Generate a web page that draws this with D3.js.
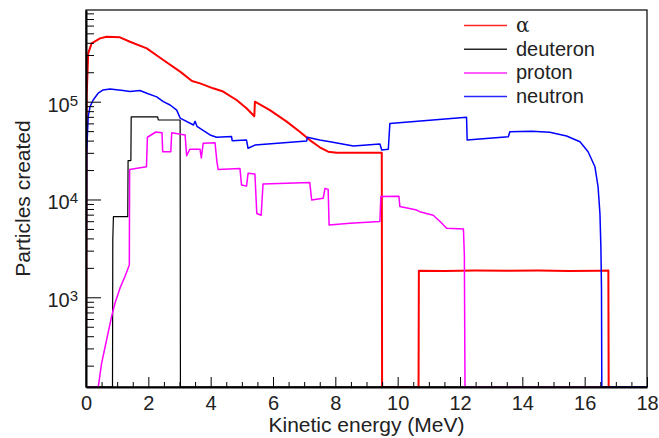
<!DOCTYPE html>
<html>
<head>
<meta charset="utf-8">
<script src="https://cdn.jsdelivr.net/npm/d3@7"></script>
<style>
  body { margin: 0; background: #fff; }
  svg { font-family: "Liberation Sans", Arial, Helvetica, sans-serif; }
</style>
</head>
<body>
<div id="chart"></div>
<script>
// spectra: [kinetic energy (MeV), particles created]
var alphaData = [
    [0, 0], [0.02, 1.12e5], [0.07, 3.12e5], [0.18, 3.95e5], [0.45, 4.44e5], [0.66, 4.62e5],
    [1.09, 4.55e5], [1.41, 4.10e5], [1.95, 3.51e5], [2.48, 2.67e5], [3.02, 2.03e5],
    [3.40, 1.63e5], [3.66, 1.54e5], [4.08, 1.37e5], [4.40, 1.27e5], [4.83, 1.04e5],
    [5.15, 8.57e4], [5.40, 7.1e4], [5.42, 1.0e5], [5.90, 8.2e4], [6.44, 6.25e4],
    [6.86, 4.93e4], [7.18, 4.05e4], [7.50, 3.42e4], [7.77, 3.08e4], [8.04, 3.0e4],
    [9.49, 3.0e4], [9.50, 0], [10.67, 0], [10.68, 1.87e3], [11.5, 1.86e3], [12.5, 1.88e3],
    [13.5, 1.87e3], [14.5, 1.88e3], [15.5, 1.86e3], [16.5, 1.87e3], [16.76, 1.88e3],
    [16.77, 0], [18, 0]
];
var deuteronData = [
    [0, 0], [0.85, 0], [0.86, 3.94e3], [0.88, 6.67e3], [1.34, 6.67e3], [1.35, 2.5e4],
    [1.44, 2.5e4], [1.45, 7.0e4], [2.30, 7.0e4], [2.32, 6.5e4], [3.02, 6.5e4], [3.03, 0], [18, 0]
];
var protonData = [
    [0, 0], [0.38, 0], [0.40, 125], [0.50, 211], [0.66, 366], [0.82, 634], [0.93, 869],
    [1.09, 1240], [1.25, 1630], [1.39, 2140], [1.40, 2.03e4], [1.94, 2.16e4], [1.97, 4.33e4],
    [2.24, 4.9e4], [2.44, 4.8e4], [2.46, 3.08e4], [2.72, 3.08e4], [2.75, 4.8e4], [3.18, 4.57e4],
    [3.23, 2.8e4], [3.33, 3.26e4], [3.66, 3.26e4], [3.70, 2.66e4], [3.76, 3.75e4], [4.14, 3.8e4],
    [4.20, 2.44e4], [4.24, 2.03e4], [4.94, 2.08e4], [4.99, 1.41e4], [5.15, 1.37e4], [5.20, 1.85e4],
    [5.42, 1.82e4], [5.48, 7.2e3], [5.62, 6.9e3], [5.68, 1.44e4], [7.18, 1.49e4], [7.24, 9.9e3],
    [7.61, 1.03e4], [7.67, 1.30e4], [7.77, 1.27e4], [7.80, 5.5e3], [8.47, 5.7e3], [9.43, 5.96e3],
    [9.46, 1.07e4], [10.04, 1.08e4], [10.07, 8.5e3], [10.61, 7.8e3], [10.71, 7.5e3], [11.14, 6.9e3],
    [11.36, 5.96e3], [11.57, 5.08e3], [12.11, 5.0e3], [12.14, 2.7e3], [12.16, 0], [18, 0]
];
var neutronData = [
    [0, 0], [0.02, 2.97e4], [0.07, 7.03e4], [0.13, 8.89e4], [0.23, 1.04e5], [0.39, 1.22e5],
    [0.55, 1.32e5], [0.77, 1.35e5], [1.19, 1.30e5], [1.41, 1.27e5], [1.73, 1.30e5], [1.95, 1.22e5],
    [2.27, 1.12e5], [2.48, 1.0e5], [2.70, 9.25e4], [2.91, 8.2e4], [3.02, 6.8e4], [3.45, 5.78e4],
    [3.50, 6.3e4], [3.56, 5.6e4], [3.98, 4.57e4], [4.19, 4.33e4], [4.67, 4.4e4], [4.69, 3.99e4],
    [5.15, 4.05e4], [5.20, 3.34e4], [5.42, 3.6e4], [7.08, 3.96e4], [7.10, 4.33e4], [7.50, 4.05e4],
    [7.83, 3.9e4], [8.58, 3.52e4], [9.43, 3.7e4], [9.49, 3.2e4], [9.70, 3.26e4], [9.75, 6.0e4],
    [12.21, 6.92e4], [12.23, 4.05e4], [13.55, 4.38e4], [13.60, 4.93e4], [14.30, 5.0e4],
    [14.88, 4.86e4], [15.42, 4.46e4], [15.85, 3.9e4], [16.11, 3.08e4], [16.33, 2.16e4],
    [16.43, 1.35e4], [16.49, 7.2e3], [16.52, 3.3e3], [16.54, 1.2e3], [16.55, 0], [18, 0]
];

var legendLabels = ["\u03b1", "deuteron", "proton", "neutron"];
var seriesColors = ["#ff0000", "#000000", "#ff00ff", "#0000ff"];
var xTicks = [0, 2, 4, 6, 8, 10, 12, 14, 16, 18];
var yDecades = [3, 4, 5];

var width = 659,
    height = 438,
    plotLeft = 86, plotRight = 647, plotTop = 10, plotBottom = 387,
    yMin = 121, yMax = 8.66e5;

var svg = d3.select("#chart").append("svg")
    .attr("width", width)
    .attr("height", height);

var x = d3.scaleLinear().domain([0, 18]).range([plotLeft, plotRight]);
var y = d3.scaleLog().domain([yMin, yMax]).range([plotBottom, plotTop]);

svg.append("clipPath").attr("id", "clip")
    .append("rect")
    .attr("x", plotLeft).attr("y", plotTop - 1)
    .attr("width", plotRight - plotLeft).attr("height", plotBottom - plotTop + 1);

var line = d3.line()
    .x(function (d) { return x(d[0]); })
    .y(function (d) { return y(Math.max(d[1], yMin)); });

var series = [alphaData, deuteronData, protonData, neutronData];
var widths = [2, 1.2, 1.5, 1.5];

var plot = svg.append("g").attr("clip-path", "url(#clip)");
series.forEach(function (s, i) {
    plot.append("path")
        .datum(s)
        .attr("fill", "none")
        .attr("stroke", seriesColors[i])
        .attr("stroke-width", widths[i])
        .attr("stroke-linejoin", "round")
        .attr("d", line);
});

// frame
svg.append("rect")
    .attr("x", plotLeft).attr("y", plotTop)
    .attr("width", plotRight - plotLeft).attr("height", plotBottom - plotTop)
    .attr("fill", "none")
    .attr("stroke", "#000")
    .attr("stroke-width", 1.2);

// x axis: major and minor ticks, drawn inward
var xMinor = d3.range(0, 18.01, 0.5).filter(function (v) { return v % 2 !== 0; });
svg.append("g")
    .attr("transform", "translate(0," + plotBottom + ")")
    .call(d3.axisBottom(x).tickValues(xMinor).tickSize(-5).tickFormat(""))
    .call(function (g) { g.select(".domain").remove(); });

var xAxis = svg.append("g")
    .attr("transform", "translate(0," + plotBottom + ")")
    .call(d3.axisBottom(x).tickValues(xTicks).tickSize(-10).tickSizeOuter(0).tickPadding(9).tickFormat(d3.format("d")));
xAxis.select(".domain").attr("stroke-width", 2);
xAxis.selectAll("text").attr("font-size", 20).attr("fill", "#222")
    .attr("font-family", "Liberation Sans, Arial, sans-serif");

// y axis: log ticks
var yMinor = [];
[2, 3, 4, 5].forEach(function (e) {
    for (var m = 2; m <= 9; m++) {
        var v = m * Math.pow(10, e);
        if (v >= yMin && v <= yMax) yMinor.push(v);
    }
});
svg.append("g")
    .attr("transform", "translate(" + plotLeft + ",0)")
    .call(d3.axisLeft(y).tickValues(yMinor).tickSize(-8).tickFormat(""))
    .call(function (g) { g.select(".domain").remove(); });

var yAxis = svg.append("g")
    .attr("transform", "translate(" + plotLeft + ",0)")
    .call(d3.axisLeft(y).tickValues(yDecades.map(function (e) { return Math.pow(10, e); }))
        .tickSize(-15).tickSizeOuter(0).tickFormat(""));
yAxis.select(".domain").attr("stroke-width", 2);

var yLab = svg.append("g").selectAll("text")
    .data(yDecades)
    .enter().append("text")
    .attr("x", 78)
    .attr("y", function (d) { return y(Math.pow(10, d)) + 10; })
    .attr("text-anchor", "end")
    .attr("fill", "#222")
    .attr("font-size", 20);
yLab.append("tspan").text("10");
yLab.append("tspan").attr("dy", -6).attr("font-size", 15).text(function (d) { return d; });

// axis titles
svg.append("text")
    .attr("x", (plotLeft + plotRight) / 2)
    .attr("y", 432)
    .attr("text-anchor", "middle")
    .attr("font-size", 21)
    .attr("fill", "#222")
    .text("Kinetic energy (MeV)");

svg.append("text")
    .attr("transform", "translate(30," + (plotTop + plotBottom) / 2 + ") rotate(-90)")
    .attr("text-anchor", "middle")
    .attr("font-size", 21)
    .attr("fill", "#222")
    .text("Particles created");

// legend
var legend = svg.append("g").selectAll("g")
    .data(legendLabels)
    .enter().append("g")
    .attr("transform", function (d, i) { return "translate(0," + (25.5 + i * 23.7) + ")"; });

legend.append("line")
    .attr("x1", 464).attr("x2", 507)
    .attr("stroke", function (d, i) { return seriesColors[i]; })
    .attr("stroke-opacity", 0.85)
    .attr("stroke-width", 1.5);

legend.append("text")
    .attr("x", 516)
    .attr("y", 6.5)
    .attr("font-size", 20)
    .attr("fill", "#222")
    .attr("font-family", function (d, i) { return i === 0 ? "DejaVu Serif, serif" : null; })
    .text(function (d) { return d; });
</script>
</body>
</html>
